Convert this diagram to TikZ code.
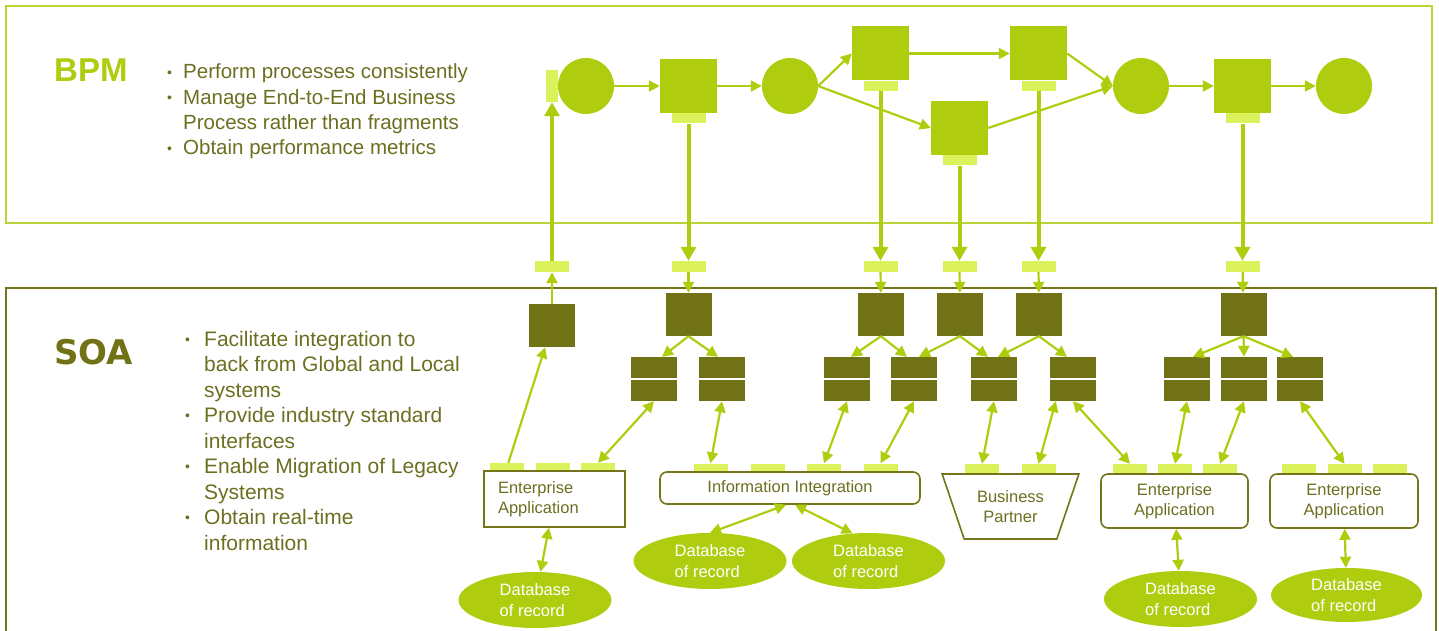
\documentclass[tikz,border=0pt]{standalone}
\usepackage{fontspec}
\setmainfont{Liberation Sans}
\newfontfamily\headfont{DejaVu Sans}
\usetikzlibrary{arrows.meta}
\usetikzlibrary{positioning}
\usetikzlibrary{shapes.geometric}
\definecolor{bpmgreen}{RGB}{175,205,14}
\definecolor{tabgreen}{RGB}{220,242,92}
\definecolor{soaolive}{RGB}{113,113,21}
\definecolor{textolive}{RGB}{108,111,32}
\definecolor{frameolive}{RGB}{116,116,26}
\definecolor{framegreen}{RGB}{184,212,54}
\newcommand{\bitem}[1][16pt]{\makebox[#1][l]{\raisebox{1.8pt}{\fontsize{14}{14}\selectfont\textbullet}}}

\begin{document}
\begin{tikzpicture}[
    x=1pt, y=-1pt,
    >={Triangle[length=11pt,width=11pt]},
    every node/.style={inner sep=0pt},
    event/.style={circle, fill=bpmgreen, minimum size=56pt},
    activity/.style={rectangle, fill=bpmgreen, minimum width=57pt, minimum height=54pt},
    port/.style={rectangle, fill=tabgreen, minimum width=34pt, minimum height=10pt},
    service/.style={rectangle, fill=soaolive, minimum width=46pt, minimum height=43pt},
    operation/.style={rectangle, fill=soaolive, minimum width=46pt, minimum height=44pt,
      path picture={\draw[white, line width=1.5pt] (path picture bounding box.west) -- (path picture bounding box.east);}},
    system/.style={draw=frameolive, line width=1.6pt, text=textolive,
      font=\fontsize{16.5}{20.5}\selectfont, align=center},
    store/.style={ellipse, fill=bpmgreen, text=white, font=\fontsize{16.5}{20.5}\selectfont,
      align=left, minimum width=153pt, minimum height=56pt},
    flow/.style={draw=bpmgreen, line width=2.2pt},
    link/.style={draw=bpmgreen, line width=4pt, >={Triangle[length=14pt,width=15pt]}, ->},
  ]
  \useasboundingbox (0,0) rectangle (1439,631);

  \draw[framegreen, line width=2pt] (6,6) rectangle (1432,223);
  \draw[frameolive, line width=2pt] (6,631) -- (6,288) -- (1436,288) -- (1436,631);

  \node[anchor=base west, text=bpmgreen, font=\fontsize{33}{33}\selectfont\bfseries] (bpm) at (54,82) {BPM};
  \node[anchor=base west, text=soaolive, font=\headfont\bfseries\fontsize{34}{34}\selectfont] (soa) at (54,364) {SOA};

  \node[anchor=base west, text=textolive, font=\fontsize{20.5}{25.3}\selectfont] (bpmlist) at (167,79) {%
    \begin{tabular}[t]{@{}l@{}}
      \bitem Perform processes consistently\\
      \bitem Manage End-to-End Business\\
      \hspace{16pt}Process rather than fragments\\
      \bitem Obtain performance metrics
    \end{tabular}};
  \node[anchor=base west, text=textolive, font=\fontsize{21}{25.5}\selectfont] (soalist) at (185,346) {%
    \begin{tabular}[t]{@{}l@{}}
      \bitem[19pt]Facilitate integration to\\
      \hspace{19pt}back from Global and Local\\
      \hspace{19pt}systems\\
      \bitem[19pt]Provide industry standard\\
      \hspace{19pt}interfaces\\
      \bitem[19pt]Enable Migration of Legacy\\
      \hspace{19pt}Systems\\
      \bitem[19pt]Obtain real-time\\
      \hspace{19pt}information
    \end{tabular}};

  \node[rectangle, fill=tabgreen, minimum width=12pt, minimum height=32pt] (start) at (552,86) {};
  \node[event] (ev1) at (586,86) {};
  \node[activity] (ac1) at (688.5,86) {};
  \node[port, below=0pt of ac1] (pt1) {};
  \node[event] (ev2) at (790,86) {};
  \node[activity] (ac2) at (880.5,53.5) {};
  \node[port, below=0pt of ac2] (pt2) {};
  \node[activity] (ac3) at (959.5,128) {};
  \node[port, below=0pt of ac3] (pt3) {};
  \node[activity] (ac4) at (1038.5,53.5) {};
  \node[port, below=0pt of ac4] (pt4) {};
  \node[event] (ev3) at (1141,86) {};
  \node[activity] (ac5) at (1242.5,86) {};
  \node[port, below=0pt of ac5] (pt5) {};
  \node[event] (ev4) at (1344,86) {};

  \draw[flow, ->] (ev1) -- (ac1);
  \draw[flow, ->] (ac1) -- (ev2);
  \draw[flow, ->] (ev2.east) -- (ac2.west);
  \draw[flow, ->] (ev2.east) -- (ac3.west);
  \draw[flow, ->] (ac2) -- (ac4);
  \draw[flow, ->] (ac4.east) -- (ev3.west);
  \draw[flow, ->] (ac3.east) -- (ev3.west);
  \draw[flow, ->] (ev3) -- (ac5);
  \draw[flow, ->] (ac5) -- (ev4);

  \foreach \n/\x in {0/552, 1/688.5, 2/880.5, 3/959.5, 4/1038.5, 5/1242.5}
    \node[port, minimum height=11pt] (if\n) at (\x,266.5) {};
  \node[service] (sv0) at (552,325.5) {};
  \foreach \n/\x in {1/688.5, 2/881, 3/960, 4/1039, 5/1243.5}
    \node[service] (sv\n) at (\x,314.5) {};
  \foreach \n/\x in {1/654, 2/722, 3/847, 4/914, 5/994, 6/1073, 7/1187, 8/1244, 9/1300}
    \node[operation] (op\n) at (\x,379) {};

  \draw[link] (if0) -- (start);
  \foreach \n in {1,...,5}
    \draw[link] (pt\n) -- (if\n);
  \draw[flow, ->] (sv0) -- (if0);
  \foreach \n in {1,...,5}
    \draw[flow, ->] (if\n) -- (sv\n);
  \foreach \s/\o/\d in {1/1/8, 1/2/-4, 2/3/4, 2/4/-7, 3/4/5, 3/5/-6, 4/5/4, 4/6/-6, 5/7/6, 5/8/0, 5/9/-7}
    \draw[flow, ->] (sv\s.south) -- ([xshift=\d pt]op\o.north);

  \foreach \n/\x in {a/507, b/552.5, c/598}
    \node[port, minimum height=8pt] (app1\n) at (\x,467) {};
  \foreach \n/\x in {a/710.5, b/768, c/824, d/880.5}
    \node[port, minimum height=8pt] (info\n) at (\x,467.5) {};
  \foreach \n/\x in {a/982, b/1038.5}
    \node[port, minimum height=10pt] (partner\n) at (\x,469) {};
  \foreach \n/\x in {a/1130, b/1175, c/1220}
    \node[port, minimum height=10pt] (app2\n) at (\x,469) {};
  \foreach \n/\x in {a/1299, b/1344.5, c/1390}
    \node[port, minimum height=10pt] (app3\n) at (\x,469) {};

  \node[system, minimum width=141pt, minimum height=56pt, text width=113pt, align=left] (app1) at (554.5,499) {Enterprise\\Application};
  \node[system, rounded corners=7pt, minimum width=260pt, minimum height=32pt] (info) at (790,488) {Information Integration};
  \node[system, trapezium, trapezium left angle=64, trapezium right angle=64, shape border rotate=180,
    trapezium stretches=true, minimum width=137pt, minimum height=65pt] (partner) at (1010.5,506.5) {Business\\Partner};
  \node[system, rounded corners=7pt, minimum width=147pt, minimum height=54pt] (app2) at (1174.5,501) {Enterprise\\Application};
  \node[system, rounded corners=7pt, minimum width=148pt, minimum height=54pt] (app3) at (1344,501) {Enterprise\\Application};

  \node[store] (db1) at (535,600) {Database\\of record};
  \node[store] (db2) at (710,561) {Database\\of record};
  \node[store] (db3) at (868.5,561) {Database\\of record};
  \node[store] (db4) at (1180.5,599) {Database\\of record};
  \node[store, minimum width=151pt, minimum height=54pt] (db5) at (1346.5,595) {Database\\of record};

  \draw[flow, ->] (app1a) -- (sv0);
  \draw[flow, <->] (op1.south) -- (app1c.north);
  \draw[flow, <->] (op2.south) -- (infoa.north);
  \draw[flow, <->] (op3.south) -- (infoc.north);
  \draw[flow, <->] (op4.south) -- (infod.north);
  \draw[flow, <->] (op5.south) -- (partnera.north);
  \draw[flow, <->] ([xshift=6pt]op6.south west) -- (partnerb.north);
  \draw[flow, <->] (op6.south) -- (app2a.north);
  \draw[flow, <->] (op7.south) -- (app2b.north);
  \draw[flow, <->] (op8.south) -- (app2c.north);
  \draw[flow, <->] (op9.south) -- (app3b.north);

  \draw[flow, <->] (app1) -- (db1);
  \draw[flow, <->] ([xshift=-4pt]info.south) -- (db2.north);
  \draw[flow, <->] ([xshift=5pt]info.south) -- (db3.120);
  \draw[flow, <->] (app2) -- (db4);
  \draw[flow, <->] (app3) -- (db5);
\end{tikzpicture}
\end{document}
